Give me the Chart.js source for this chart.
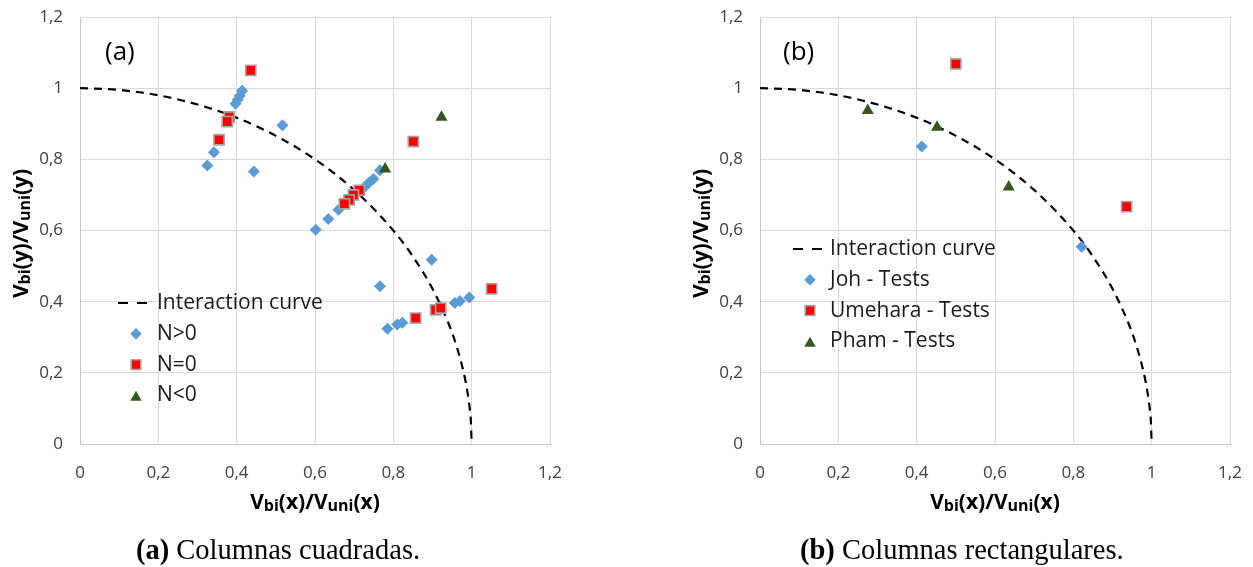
<!DOCTYPE html>
<html><head><meta charset="utf-8">
<script src="https://cdn.jsdelivr.net/npm/chart.js@4"></script>
<style>
html,body{margin:0;padding:0;background:#fff;}
#wrap{position:relative;width:1253px;height:567px;overflow:hidden;background:#fff;}
.cw{position:absolute;top:0;height:567px;}
.cap{position:absolute;font-family:"Liberation Serif","Times New Roman",serif;font-size:28.5px;line-height:28px;color:#000;white-space:nowrap;}
</style></head><body>
<div id="wrap">
<div class="cw" style="left:0;width:626px"><canvas id="ca" width="626" height="567"></canvas></div>
<div class="cw" style="left:626px;width:627px"><canvas id="cb" width="627" height="567"></canvas></div>
<div class="cap" style="left:136px;top:536px"><b>(a)</b> Columnas cuadradas.</div>
<div class="cap" style="left:800px;top:536px"><b>(b)</b> Columnas rectangulares.</div>
</div>
<script>
// ---- data ----
const tickLabels = ['0', '0,2', '0,4', '0,6', '0,8', '1', '1,2'];

const curveX = [0, 0.1, 0.2, 0.3, 0.4, 0.5, 0.6, 0.7, 0.8, 0.85, 0.9, 0.94, 0.96, 0.98, 0.99, 0.995, 0.998, 1];
const curveY = [1, 0.995, 0.98, 0.954, 0.917, 0.866, 0.8, 0.714, 0.6, 0.527, 0.436, 0.341, 0.28, 0.199, 0.141, 0.1, 0.063, 0];

// (a) Columnas cuadradas
const nPosX = [0.325, 0.342, 0.444, 0.517, 0.397, 0.403, 0.408, 0.414, 0.602, 0.634, 0.660, 0.680, 0.695, 0.710, 0.728, 0.738, 0.749, 0.766, 0.898, 0.766, 0.785, 0.810, 0.823, 0.920, 0.957, 0.970, 0.994];
const nPosY = [0.783, 0.820, 0.766, 0.896, 0.956, 0.968, 0.979, 0.993, 0.602, 0.632, 0.658, 0.678, 0.692, 0.708, 0.724, 0.735, 0.745, 0.769, 0.518, 0.443, 0.324, 0.336, 0.341, 0.386, 0.396, 0.402, 0.412];
const nZeroX = [0.436, 0.381, 0.376, 0.355, 0.851, 0.713, 0.698, 0.687, 0.675, 1.051, 0.857, 0.908, 0.921];
const nZeroY = [1.050, 0.919, 0.906, 0.855, 0.850, 0.713, 0.700, 0.686, 0.675, 0.436, 0.354, 0.377, 0.382];
const nNegX = [0.923, 0.779];
const nNegY = [0.918, 0.773];

// (b) Columnas rectangulares
const johX = [0.413, 0.821];
const johY = [0.836, 0.554];
const umeX = [0.500, 0.936];
const umeY = [1.068, 0.667];
const phamX = [0.275, 0.452, 0.635];
const phamY = [0.937, 0.890, 0.722];

const legendA = ['Interaction curve', 'N>0', 'N=0', 'N<0'];
const legendB = ['Interaction curve', 'Joh - Tests', 'Umehara - Tests', 'Pham - Tests'];

// ---- styles ----
const BLUE = '#5b9bd5', RED = '#ff0000', REDB = '#a5a5a5', GREEN = '#375623';
const FONT = '"Open Sans", "DejaVu Sans", sans-serif';

function pts(xs, ys) { return xs.map((x, i) => ({ x: x, y: ys[i] })); }

function curveDs(label) {
  return { label, data: pts(curveX, curveY), showLine: true, borderColor: '#000', borderWidth: 2.2,
    borderDash: [8, 6], pointRadius: 0, pointHoverRadius: 0, cubicInterpolationMode: 'monotone', fill: false, order: 4 };
}
function diamondDs(label, xs, ys) {
  return { label, data: pts(xs, ys), pointStyle: 'rectRot', pointRadius: 6, backgroundColor: BLUE,
    borderColor: BLUE, borderWidth: 0, order: 3 };
}
function squareDs(label, xs, ys) {
  return { label, data: pts(xs, ys), pointStyle: 'rect', pointRadius: 7.2, backgroundColor: RED,
    borderColor: REDB, borderWidth: 1.6, order: 2 };
}
function triDs(label, xs, ys) {
  return { label, data: pts(xs, ys), pointStyle: 'triangle', pointRadius: 7, backgroundColor: GREEN,
    borderColor: GREEN, borderWidth: 0, order: 1 };
}

function drawParts(ctx, parts, x, y, align) {
  let total = 0;
  parts.forEach(p => { ctx.font = p[1]; total += ctx.measureText(p[0]).width; });
  let cx = align === 'center' ? x - total / 2 : x;
  ctx.textAlign = 'left';
  ctx.textBaseline = 'alphabetic';
  parts.forEach(p => { ctx.font = p[1]; ctx.fillText(p[0], cx, y + p[2]); cx += ctx.measureText(p[0]).width; });
}

function titleParts(v) {
  const big = 'bold 21px ' + FONT, small = 'bold 16px ' + FONT;
  return [['V', big, 0], ['bi', small, 1.5], ['(' + v + ')/V', big, 0], ['uni', small, 1.5], ['(' + v + ')', big, 0]];
}

function overlay(cfg) {
  return {
    id: 'overlay',
    afterDraw(chart) {
      const ctx = chart.ctx, a = chart.chartArea;
      ctx.save();
      ctx.fillStyle = '#000';
      ctx.font = '26px ' + FONT;
      ctx.textAlign = 'left'; ctx.textBaseline = 'middle';
      ctx.fillText(cfg.panel, a.left + cfg.panelDx, a.top + 36);
      drawParts(ctx, titleParts('x'), (a.left + a.right) / 2, a.bottom + 65, 'center');
      ctx.save();
      ctx.translate(a.left - 52, (a.top + a.bottom) / 2 + 3);
      ctx.rotate(-Math.PI / 2);
      drawParts(ctx, titleParts('y'), 0, 0, 'center');
      ctx.restore();
      const L = cfg.legend;
      const ds = chart.data.datasets;
      L.labels.forEach((lab, i) => {
        const y = a.top + L.dy + i * L.step;
        if (i === 0) {
          ctx.save();
          ctx.strokeStyle = '#000'; ctx.lineWidth = 2.2; ctx.setLineDash([10, 9]);
          ctx.beginPath(); ctx.moveTo(a.left + L.lineX1, y); ctx.lineTo(a.left + L.lineX2, y); ctx.stroke();
          ctx.restore();
        } else {
          const d = ds[i];
          ctx.save();
          ctx.fillStyle = d.backgroundColor; ctx.strokeStyle = d.borderColor;
          ctx.lineWidth = d.borderWidth;
          Chart.helpers.drawPoint(ctx, { pointStyle: d.pointStyle, radius: d.pointRadius * 0.95, borderWidth: d.borderWidth, rotation: 0 },
            a.left + L.mx, y + (d.pointStyle === 'triangle' ? 2 : 0));
          ctx.restore();
        }
        ctx.fillStyle = '#1a1a1a';
        ctx.font = '21px ' + FONT;
        ctx.textAlign = 'left'; ctx.textBaseline = 'middle';
        ctx.fillText(lab, a.left + L.tx, y);
      });
      ctx.restore();
    }
  };
}

function makeChart(id, datasets, yWidth, padRight, cfg) {
  return new Chart(document.getElementById(id), {
    type: 'scatter',
    data: { datasets },
    options: {
      responsive: false, animation: false, events: [],
      layout: { padding: { top: 17, right: padRight, left: 0, bottom: 0 } },
      plugins: { legend: { display: false }, tooltip: { enabled: false } },
      scales: {
        x: {
          type: 'linear', min: 0, max: 1.2,
          afterFit: s => { s.height = 123; s.paddingLeft = 0; s.paddingRight = 0; },
          grid: { color: '#d9d9d9', lineWidth: 1, drawTicks: false },
          border: { display: true, color: '#c8c8c8', width: 1 },
          ticks: { stepSize: 0.2, autoSkip: false, maxRotation: 0, padding: 19, color: '#404040',
            font: { family: FONT, size: 17 }, callback: v => tickLabels[Math.round(v / 0.2)] }
        },
        y: {
          type: 'linear', min: 0, max: 1.2,
          afterFit: s => { s.width = yWidth; s.paddingTop = 0; s.paddingBottom = 0; },
          grid: { color: '#d9d9d9', lineWidth: 1, drawTicks: false },
          border: { display: true, color: '#c8c8c8', width: 1 },
          ticks: { stepSize: 0.2, autoSkip: false, padding: 17, color: '#404040',
            font: { family: FONT, size: 17 }, callback: v => tickLabels[Math.round(v / 0.2)] }
        }
      }
    },
    plugins: [overlay(cfg)]
  });
}

makeChart('ca', [
  curveDs(legendA[0]),
  diamondDs(legendA[1], nPosX, nPosY),
  squareDs(legendA[2], nZeroX, nZeroY),
  triDs(legendA[3], nNegX, nNegY)
], 80, 76, {
  panel: '(a)', panelDx: 25,
  legend: { labels: legendA, dy: 286, step: 30.8, lineX1: 38, lineX2: 67, mx: 56, tx: 77 }
});

makeChart('cb', [
  curveDs(legendB[0]),
  diamondDs(legendB[1], johX, johY),
  squareDs(legendB[2], umeX, umeY),
  triDs(legendB[3], phamX, phamY)
], 134, 23, {
  panel: '(b)', panelDx: 23,
  legend: { labels: legendB, dy: 232, step: 30.8, lineX1: 33, lineX2: 62, mx: 50, tx: 70 }
});
</script>
</body></html>
